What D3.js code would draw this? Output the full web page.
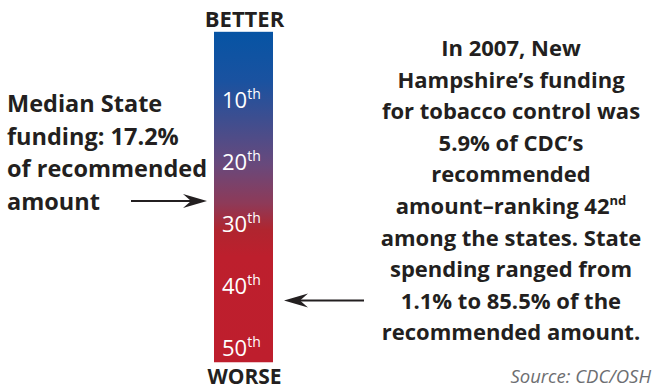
<!DOCTYPE html>
<html>
<head>
<meta charset="utf-8">
<script src="https://cdn.jsdelivr.net/npm/d3@7"></script>
<style>
  body { margin: 0; background: #fff; }
  svg { display: block; font-family: "Open Sans", sans-serif; }
</style>
</head>
<body>
<svg id="chart" width="664" height="390"></svg>
<script>
// ranks shown on the scale (1 = best funded state)
const rankTicks = [10, 20, 30, 40, 50]
const medianRank = 25.5
const stateRank = 42
const medianPct = 17.2
const statePct = 5.9
const rangePct = [1.1, 85.5]

const leftLines = ["Median State", `funding: ${medianPct}%`, "of recommended", "amount"]
const rightLines = [
  "In 2007, New",
  "Hampshire\u2019s funding",
  "for tobacco control was",
  `${statePct}% of CDC\u2019s`,
  "recommended",
  ["amount\u2013ranking ", `${stateRank}`, "nd"],
  "among the states. State",
  "spending ranged from",
  `${rangePct[0]}% to ${rangePct[1]}% of the`,
  "recommended amount."
]

const width = 664, height = 390
const barLeft = 214, barWidth = 59
const ink = "#231f20"

const svg = d3.select("#chart")

// rank -> vertical position of the tick label centre
const y = d3.scaleLinear().domain([0, 50]).range([38, 348])

// gradient bar
const defs = svg.append("defs")
const grad = defs.append("linearGradient")
    .attr("id", "rankGrad")
    .attr("x1", 0).attr("y1", 0).attr("x2", 0).attr("y2", 1)
const stops = [
  [0, "#0654a4"], [0.15, "#1a52a0"], [0.40, "#68497c"],
  [0.52, "#8e3a58"], [0.60, "#b0252f"], [0.68, "#bd1f2d"], [1, "#be1e2d"]
]
grad.selectAll("stop").data(stops).join("stop")
    .attr("offset", d => d[0])
    .attr("stop-color", d => d[1])

const barTop = y(-1), barBottom = y(52.3)
svg.append("rect")
    .attr("x", barLeft).attr("y", barTop)
    .attr("width", barWidth).attr("height", barBottom - barTop)
    .attr("fill", "url(#rankGrad)")

// tick labels inside bar
const ticks = svg.selectAll("text.tick").data(rankTicks).join("text")
    .attr("class", "tick")
    .attr("x", barLeft + 8)
    .attr("y", d => y(d) + 8)
    .attr("fill", "#fff")
    .attr("font-size", 22)
ticks.append("tspan").text(d => d)
ticks.append("tspan").text("th")
    .attr("font-size", 14).attr("dy", -9)

// BETTER / WORSE
svg.append("text").text("BETTER")
    .attr("x", barLeft + barWidth / 2 + 1).attr("y", 27)
    .attr("text-anchor", "middle").attr("font-weight", 700)
    .attr("font-size", 22).attr("fill", ink)
svg.append("text").text("WORSE")
    .attr("x", barLeft + barWidth / 2 + 1).attr("y", 384)
    .attr("text-anchor", "middle").attr("font-weight", 700)
    .attr("font-size", 21).attr("fill", ink)

// left annotation
const left = svg.append("text")
    .attr("font-weight", 700).attr("font-size", 23.5).attr("fill", ink)
left.selectAll("tspan").data(leftLines).join("tspan")
    .attr("x", 7)
    .attr("y", (d, i) => 112 + i * 32.5)
    .text(d => d)

// right annotation
const right = svg.append("text")
    .attr("font-weight", 700).attr("font-size", 22).attr("fill", ink)
    .attr("text-anchor", "middle")
rightLines.forEach((line, i) => {
  const t = right.append("tspan")
      .attr("x", 511)
      .attr("y", 56 + i * 31.6)
  if (Array.isArray(line)) {
    t.text(line[0] + line[1])
    right.append("tspan").text(line[2])
        .attr("font-size", 13).attr("dy", -9)
  } else {
    t.text(line)
  }
})

// arrows
function arrow(x1, x2, yy) {
  const dir = Math.sign(x2 - x1)
  svg.append("line")
      .attr("x1", x1).attr("x2", x2 - dir * 10)
      .attr("y1", yy).attr("y2", yy)
      .attr("stroke", ink).attr("stroke-width", 2)
  svg.append("path")
      .attr("d", `M${x2},${yy} L${x2 - dir * 24},${yy - 7} L${x2 - dir * 16},${yy} L${x2 - dir * 24},${yy + 7} Z`)
      .attr("fill", ink)
}
arrow(131, 207, y(medianRank) + 5)
arrow(364, 284, y(stateRank) + 2)

// source
svg.append("text").text("Source: CDC/OSH")
    .attr("x", 651).attr("y", 383)
    .attr("text-anchor", "end").attr("font-style", "italic")
    .attr("font-size", 18.5).attr("fill", "#6d6e71")
</script>
</body>
</html>
